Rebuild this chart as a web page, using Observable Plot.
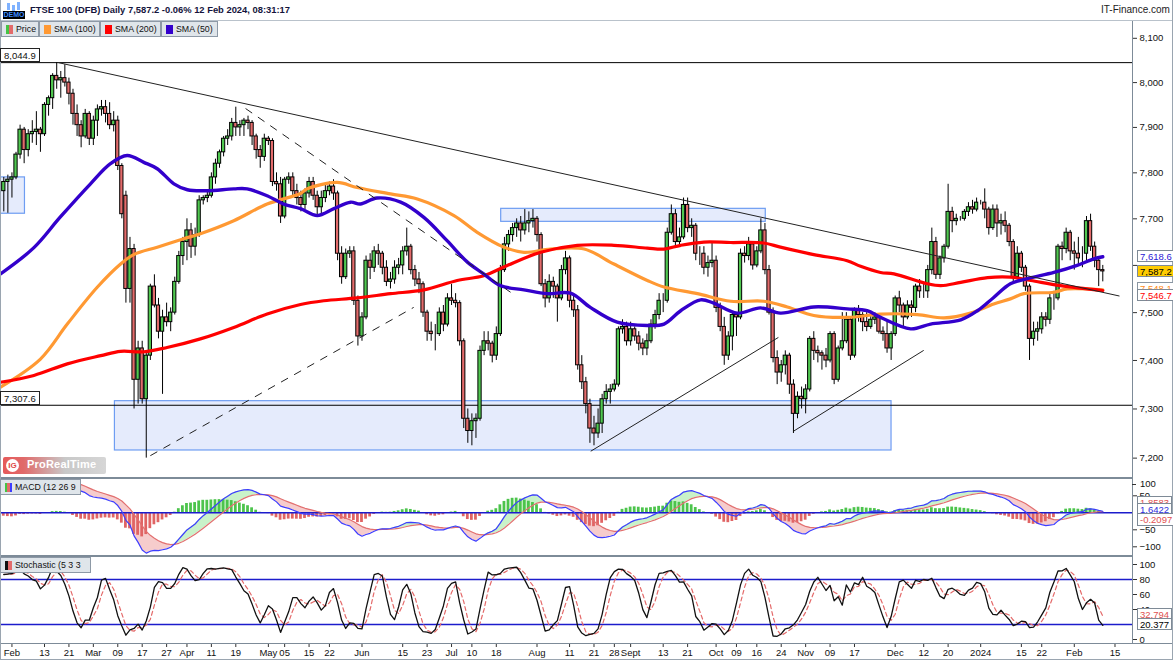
<!DOCTYPE html>
<html><head><meta charset="utf-8">
<script src="https://cdn.jsdelivr.net/npm/d3@7"></script>
<script src="https://cdn.jsdelivr.net/npm/@observablehq/plot@0.6"></script>
<style>
html,body{margin:0;padding:0;background:#fff;}
#root{position:relative;width:1173px;height:660px;overflow:hidden;background:#fff;font-family:"Liberation Sans",Arial,sans-serif;color:#111;}
.box{position:absolute;border:1px solid #8d99a6;background:#dfe5ea;font-size:8.8px;height:16px;line-height:15px;white-space:nowrap;box-sizing:border-box;padding-left:14px;overflow:hidden;}
.ico{position:absolute;left:4px;top:3px;width:7px;height:9px;}
.lab{position:absolute;border:1px solid #7e8a96;background:#fff;font-size:9.5px;height:12px;line-height:11px;padding:0 2px;box-sizing:border-box;white-space:nowrap;}
.ln{position:absolute;background:#7d8b98;}
</style></head><body><div id="root"></div><script>
// ---------- DATA (FTSE 100 DFB, daily, 30 Jan 2023 - 12 Feb 2024, one row per week) ----------
const open = [
7760,7780,7785,7790,7840, 7895,7850,7885,7890,7895, 7885,7950,7965,8015,8005, 8010,8000,7975,7930,7905,
7880,7930,7875,7915,7940, 7945,7930,7905,7915,7815, 7750,7550,7635,7360,7425, 7320,7410,7555,7515,7460,
7490,7480,7500,7565,7620, 7650,7675,7640,7665,7740, 7745,7750,7790,7820,7845, 7875,7880,7910,7900,7905,
7915,7910,7880,7850,7835, 7875,7870,7780,7775,7705, 7785,7790,7760,7745,7730, 7755,7780,7750,7725,7745,
7760,7770,7755,7625,7575, 7625,7630,7525,7450,7490, 7610,7595,7630,7625,7595, 7565,7570,7595,7600,7630,
7640,7590,7570,7560,7500, 7460,7455,7455,7500,7475, 7530,7525,7520,7440,7280, 7255,7275,7280,7420,7440,
7435,7410,7455,7590,7645, 7665,7680,7690,7675,7690, 7695,7700,7665,7560,7530, 7565,7555,7530,7590,7615,
7525,7505,7390,7355,7310, 7260,7250,7270,7320,7335, 7340,7350,7465,7470,7440, 7465,7450,7435,7425,7440,
7475,7495,7525,7525,7670, 7710,7650,7660,7730,7680, 7685,7625,7625,7595,7605, 7610,7510,7470,7410,7450,
7495,7490,7625,7620,7645, 7600,7630,7675,7590,7500, 7405,7375,7390,7410,7350, 7290,7325,7320,7340,7445,
7420,7415,7410,7400,7455, 7360,7425,7440,7485,7410, 7505,7495,7480,7470,7485, 7490,7460,7455,7425,7455,
7530,7515,7490,7515,7510, 7555,7545,7545,7590,7650, 7580,7615,7640,7715,7695, 7700,7700,7715,7725,7720,
7735,7735,7720,7680,7720, 7690,7695,7685,7650,7575, 7625,7595,7555,7445,7460, 7465,7490,7485,7530,7530,
7640,7635,7670,7630,7625, 7615,7625,7695,7640,7610, 7590];
const high = [
7790,7795,7800,7845,7905, 7900,7895,7915,7935,7900, 7955,7970,8020,8045,8025, 8040,8010,7985,7950,7915,
7940,7935,7925,7950,7960, 7960,7955,7935,7925,7820, 7760,7660,7645,7440,7440, 7420,7560,7580,7530,7505,
7520,7510,7575,7630,7660, 7700,7690,7680,7750,7750, 7760,7800,7830,7850,7880, 7895,7920,7945,7915,7920,
7925,7915,7885,7860,7885, 7880,7875,7800,7790,7790, 7800,7800,7775,7760,7765, 7790,7790,7760,7760,7775,
7780,7785,7760,7640,7635, 7640,7640,7535,7500,7620, 7625,7640,7645,7630,7610, 7585,7610,7615,7640,7680,
7645,7600,7585,7565,7505, 7480,7475,7510,7515,7540, 7560,7540,7525,7445,7300, 7290,7290,7430,7460,7460,
7440,7470,7600,7660,7675, 7690,7700,7705,7720,7715, 7720,7705,7670,7570,7580, 7575,7560,7600,7630,7620,
7540,7515,7410,7365,7320, 7285,7300,7330,7350,7350, 7360,7470,7485,7480,7480, 7470,7460,7445,7455,7485,
7505,7540,7540,7680,7730, 7720,7680,7745,7745,7700, 7690,7640,7640,7620,7650, 7620,7520,7490,7460,7500,
7500,7635,7640,7660,7650, 7640,7700,7690,7600,7510, 7420,7400,7420,7415,7360, 7335,7345,7350,7450,7460,
7430,7420,7425,7460,7460, 7430,7500,7500,7490,7510, 7515,7500,7500,7495,7500, 7495,7470,7480,7460,7535,
7545,7520,7525,7525,7560, 7570,7560,7600,7680,7660, 7620,7645,7775,7725,7710, 7705,7720,7735,7740,7745,
7740,7765,7725,7730,7730, 7710,7715,7690,7655,7640, 7630,7600,7560,7480,7480, 7500,7500,7540,7545,7645,
7650,7680,7675,7650,7660, 7640,7705,7710,7650,7615, 7600];
const low = [
7715,7712,7745,7785,7830, 7820,7835,7865,7860,7845, 7880,7925,7940,7985,7965, 7990,7950,7905,7880,7855,
7875,7860,7860,7880,7925, 7910,7895,7890,7805,7700, 7520,7520,7300,7310,7310, 7200,7400,7510,7445,7330,
7470,7460,7495,7560,7600, 7610,7615,7620,7660,7730, 7735,7745,7775,7810,7835, 7860,7870,7880,7880,7880,
7895,7860,7830,7810,7825, 7860,7770,7760,7690,7700, 7775,7750,7730,7715,7720, 7745,7740,7705,7710,7735,
7750,7740,7610,7560,7570, 7615,7515,7430,7440,7485, 7570,7585,7600,7580,7555, 7550,7560,7580,7580,7620,
7580,7555,7540,7490,7440, 7440,7420,7450,7460,7470, 7515,7510,7430,7260,7230, 7225,7240,7275,7410,7420,
7395,7400,7450,7585,7630, 7650,7660,7650,7665,7670, 7680,7650,7555,7510,7520, 7530,7480,7525,7580,7510,
7490,7380,7340,7290,7230, 7225,7240,7250,7310,7310, 7335,7345,7455,7430,7430, 7440,7420,7410,7410,7435,
7465,7485,7500,7520,7665, 7640,7640,7655,7670,7660, 7610,7600,7580,7575,7595, 7500,7460,7390,7400,7420,
7450,7485,7605,7610,7590, 7595,7625,7580,7495,7395, 7350,7355,7370,7330,7250, 7280,7300,7290,7335,7400,
7395,7380,7385,7395,7350, 7355,7420,7435,7400,7405, 7480,7460,7460,7465,7475, 7455,7440,7415,7400,7450,
7500,7470,7485,7490,7500, 7530,7530,7530,7580,7570, 7570,7605,7635,7670,7685, 7695,7695,7705,7710,7715,
7730,7700,7665,7675,7660, 7665,7670,7640,7560,7570, 7585,7545,7400,7430,7440, 7455,7470,7475,7505,7525,
7610,7625,7610,7590,7600, 7595,7610,7630,7595,7555, 7565];
const close = [
7780,7785,7790,7840,7895, 7850,7885,7890,7895,7885, 7950,7965,8015,8005,8010, 8000,7975,7930,7905,7880,
7930,7875,7915,7940,7945, 7930,7905,7915,7815,7710, 7550,7635,7360,7425,7320, 7410,7555,7515,7460,7490,
7480,7500,7565,7620,7650, 7675,7640,7665,7740,7745, 7750,7790,7820,7845,7875, 7880,7910,7900,7905,7915,
7910,7880,7850,7835,7875, 7870,7780,7775,7705,7785, 7790,7760,7745,7730,7755, 7780,7750,7725,7745,7760,
7770,7755,7625,7575,7625, 7630,7525,7450,7490,7610, 7595,7630,7625,7595,7565, 7570,7595,7600,7630,7640,
7590,7570,7560,7500,7460, 7455,7455,7500,7475,7530, 7525,7520,7440,7280,7255, 7275,7280,7420,7440,7435,
7410,7455,7590,7645,7665, 7680,7690,7675,7690,7695, 7700,7665,7560,7530,7565, 7555,7530,7590,7615,7525,
7505,7390,7355,7310,7260, 7250,7270,7320,7335,7340, 7350,7465,7470,7440,7465, 7450,7435,7425,7440,7475,
7495,7525,7525,7670,7710, 7650,7660,7730,7680,7685, 7625,7625,7595,7605,7610, 7510,7470,7410,7450,7495,
7490,7625,7620,7645,7600, 7630,7675,7590,7500,7405, 7375,7390,7410,7350,7290, 7325,7320,7340,7445,7420,
7415,7410,7400,7455,7360, 7425,7440,7485,7410,7505, 7495,7480,7470,7485,7490, 7460,7455,7425,7455,7530,
7515,7490,7515,7510,7555, 7545,7545,7590,7650,7580, 7615,7640,7715,7695,7700, 7700,7715,7725,7720,7735,
7735,7720,7680,7720,7690, 7695,7685,7650,7575,7625, 7595,7555,7445,7460,7465, 7490,7485,7530,7530,7640,
7635,7670,7630,7625,7615, 7615,7695,7640,7610,7590, 7587.2];

// moving averages: [trading-day number, value]
const sma50 = [[-0.8,7582],[7.4,7638],[13.9,7704],[21.3,7776],[26.2,7820],[30.3,7838],[34.4,7823],[37.7,7809],[41.8,7776],[45.1,7763],[50,7761],[56.5,7765],[59.8,7765],[64.7,7750],[68.8,7732],[72.9,7722],[77,7707],[81.1,7722],[85.2,7736],[87.6,7732],[91.7,7745],[97.5,7736],[103.2,7703],[108.9,7653],[113.9,7607],[117.9,7582],[122,7557],[127.8,7548],[133.5,7540],[139.2,7541],[144.1,7511],[150.7,7480],[158.1,7473],[162.2,7476],[166.3,7504],[171.2,7527],[174.4,7520],[180.2,7499],[185.9,7510],[190.8,7499],[199,7512],[207.2,7508],[212.1,7504],[215.4,7490],[222.8,7466],[227.7,7476],[235.1,7485],[239.2,7504],[243.2,7532],[247.3,7561],[251.5,7572],[258,7585],[263.7,7600],[267.8,7614],[270,7618.6]];
const sma100 = [[-0.8,7345],[9,7403],[15.6,7476],[22.9,7553],[28.7,7603],[31.9,7623],[37.7,7639],[44.2,7657],[48.3,7668],[56.5,7696],[64.7,7732],[72.9,7755],[74.5,7765],[81.9,7779],[86.8,7768],[95,7754],[101.6,7743],[110.6,7707],[116.3,7671],[122.9,7639],[127.8,7628],[134.3,7635],[142.6,7635],[149.9,7603],[158.1,7568],[162.2,7554],[170.4,7540],[178.6,7524],[186.7,7524],[192.5,7512],[199,7494],[207.2,7490],[215.4,7497],[224.4,7496],[231,7489],[237.5,7499],[243.2,7518],[247.3,7529],[250.6,7540],[258,7543],[261.3,7550],[270,7548]];
const sma200 = [[-0.8,7355],[7.4,7369],[15.6,7393],[23.8,7410],[28.7,7419],[34.4,7418],[40.1,7427],[48.3,7445],[56.5,7469],[64.7,7497],[72.9,7517],[78.6,7525],[86.8,7531],[95,7540],[103.2,7548],[111.4,7568],[117.9,7578],[123.7,7600],[131.9,7628],[140.9,7643],[149.9,7643],[158.1,7637],[162.2,7635],[166.3,7643],[172,7650],[178.6,7649],[186.7,7648],[190.8,7639],[199,7623],[207.2,7610],[210.5,7598],[215.4,7585],[218.7,7582],[226.9,7561],[230.2,7557],[235.1,7564],[241.7,7574],[247.3,7575],[252.3,7568],[259.6,7557],[270,7546.7]];

// drawn annotations: zones [fromDay, toDay, low, high], lines [day1, value1, day2, value2]
const zones = [[-3,5.2,7711,7790],[27.3,218.1,7215.5,7316],[122.2,187.2,7693.5,7721.6]];
const levels = [8044.9, 7307.6];
const solidLines = [[13.4,8044.9,274.1,7535],[144.2,7214,190.3,7448],[194.1,7255,226,7421]];
const dashedLines = [[59.4,7942,124.5,7543],[36,7205,100.7,7511]];

// MACD starting state read from the left edge of the MACD pane
const ema12Start = 7745, ema26Start = 7650, signalStart = 105;

const tickDates = ["2023-02-01","2023-02-13","2023-02-21","2023-03-01","2023-03-09","2023-03-17","2023-03-27","2023-04-03","2023-04-11","2023-04-19","2023-05-01","2023-05-05","2023-05-15","2023-05-22","2023-06-01","2023-06-15","2023-06-23","2023-07-03","2023-07-10","2023-07-18","2023-08-01","2023-08-11","2023-08-21","2023-08-28","2023-09-01","2023-09-13","2023-09-21","2023-10-02","2023-10-09","2023-10-16","2023-10-24","2023-11-01","2023-11-09","2023-11-17","2023-12-01","2023-12-12","2023-12-20","2024-01-01","2024-01-15","2024-01-22","2024-02-01","2024-02-15"];
const tickLabels = ["Feb","13","21","Mar","09","17","27","Apr","11","19","May","05","15","22","Jun","15","23","Jul","10","18","Aug","11","21","28","Sept","13","21","Oct","09","16","24","Nov","09","17","Dec","12","20","2024","15","22","Feb","15"];
const priceTicks = [7200,7300,7400,7500,7600,7700,7800,7900,8000,8100];
const macdTicks = [50,-50,-100];
const stochTicks = [100,80,60,40,0];

// ---------- BUILD ----------
const root = document.getElementById("root");
function put(el, left, top){ el.style.position="absolute"; el.style.left=left+"px"; el.style.top=top+"px"; root.appendChild(el); return el; }
function div(html, left, top, css, cls){ const d=document.createElement("div"); if(cls) d.className=cls; d.innerHTML=html; d.style.cssText="position:absolute;left:"+left+"px;top:"+top+"px;"+(css||""); root.appendChild(d); return d; }

const days = [];
for (let t = Date.UTC(2023,0,30); t <= Date.UTC(2024,1,23); t += 864e5) { const wd = new Date(t).getUTCDay(); if (wd>0 && wd<6) days.push(new Date(t).toISOString().slice(0,10)); }
const dayIdx = new Map(days.map((d,i)=>[d,i]));
const tickIdx = tickDates.map(d=>dayIdx.get(d));
const labelOf = new Map(tickIdx.map((t,k)=>[t,tickLabels[k]]));

const n = close.length;
const candles = close.map((c,i)=>({i, o:open[i], h:high[i], l:low[i], c}));
const GREEN="#50c850", RED="#e36b6b";
const XD = [-0.81, 277.3];
const W = 1173, MR = 41;
const font = "Liberation Sans, Arial, sans-serif";
const fmt = d3.format(",");

const main = Plot.plot({
  width:W, height:455, marginTop:0, marginRight:MR, marginBottom:0, marginLeft:0,
  style:{background:"transparent", fontFamily:font, overflow:"hidden"},
  x:{domain:XD, axis:null},
  y:{type:"log", domain:[7161,8136], axis:null},
  color:{type:"identity"},
  marks:[
    Plot.rect(zones,{x1:d=>d[0],x2:d=>d[1],y1:d=>d[2],y2:d=>d[3],fill:"#e5ebfc",stroke:"#6e9df2",strokeWidth:1.2}),
    Plot.ruleY(levels,{stroke:"#000",strokeWidth:1}),
    Plot.ruleX(candles,{x:"i",y1:"l",y2:"h",stroke:"#000",strokeWidth:1}),
    Plot.rect(candles,{x1:d=>d.i-0.4,x2:d=>d.i+0.4,y1:"o",y2:"c",fill:d=>d.c>=d.o?GREEN:RED,stroke:"#000",strokeWidth:1}),
    Plot.line(sma100,{x:d=>d[0],y:d=>d[1],stroke:"#ff9933",strokeWidth:3.2,curve:"catmull-rom"}),
    Plot.line(sma200,{x:d=>d[0],y:d=>d[1],stroke:"#ff0000",strokeWidth:3.2,curve:"catmull-rom"}),
    Plot.line(sma50,{x:d=>d[0],y:d=>d[1],stroke:"#3300cc",strokeWidth:3.4,curve:"catmull-rom"}),
    Plot.link(solidLines,{x1:d=>d[0],y1:d=>d[1],x2:d=>d[2],y2:d=>d[3],stroke:"#222",strokeWidth:1}),
    Plot.link(dashedLines,{x1:d=>d[0],y1:d=>d[1],x2:d=>d[2],y2:d=>d[3],stroke:"#222",strokeWidth:1,strokeDasharray:"8,7"}),
    Plot.axisY({anchor:"right",label:null,ticks:priceTicks,tickFormat:d=>d===7600?"":fmt(d),tickSize:4,tickPadding:3,fontSize:9.5,stroke:"#333",fill:"#111"})
  ]
});
put(main, 0, 22);

// MACD (12,26,9) computed from the closes
const k12=2/13,k26=2/27,k9=2/10;
let e12=ema12Start, e26=ema26Start, sg=signalStart;
const macd=[];
for(let i=0;i<n;i++){ if(i>0){ e12+=k12*(close[i]-e12); e26+=k26*(close[i]-e26);} const m=e12-e26; if(i>0) sg+=k9*(m-sg); macd.push({i,m,s:sg,h:m-sg}); }
const macdPlot = Plot.plot({
  width:W, height:78, marginTop:0, marginRight:MR, marginBottom:0, marginLeft:0,
  style:{background:"transparent", fontFamily:font, overflow:"hidden"},
  x:{domain:XD, axis:null},
  y:{domain:[-128.5,100.9], axis:null},
  color:{type:"identity"},
  marks:[
    Plot.areaY(macd,{x:"i",y1:"s",y2:d=>Math.max(d.m,d.s),fill:"#c9f2c9"}),
    Plot.areaY(macd,{x:"i",y1:"s",y2:d=>Math.min(d.m,d.s),fill:"#f6cccc"}),
    Plot.rect(macd,{x1:d=>d.i-0.34,x2:d=>d.i+0.34,y1:0,y2:"h",fill:d=>d.h>=0?"#4cc44c":"#e06464"}),
    Plot.ruleY([0],{stroke:"#1c1ccc",strokeWidth:1.4}),
    Plot.line(macd,{x:"i",y:"s",stroke:"#e27070",strokeWidth:1.2}),
    Plot.line(macd,{x:"i",y:"m",stroke:"#3d3dff",strokeWidth:1.2}),
    Plot.axisY({anchor:"right",label:null,ticks:macdTicks,tickSize:4,tickPadding:3,fontSize:9.5,stroke:"#333",fill:"#111"})
  ]
});
put(macdPlot, 0, 478);

// Stochastic (5,3,3) computed from high/low/close
const rawK = close.map((c,i)=>{ const a=Math.max(0,i-4); const hh=d3.max(high.slice(a,i+1)), ll=d3.min(low.slice(a,i+1)); return 100*(c-ll)/(hh-ll); });
const K = rawK.map((_,i)=>d3.mean(rawK.slice(Math.max(0,i-2),i+1)));
const D = K.map((_,i)=>d3.mean(K.slice(Math.max(0,i-2),i+1)));
const st = K.map((k,i)=>({i,k,d:D[i]}));
const stochPlot = Plot.plot({
  width:W, height:104, marginTop:0, marginRight:MR, marginBottom:17, marginLeft:0,
  style:{background:"transparent", fontFamily:font, overflow:"visible"},
  x:{domain:XD, axis:null},
  y:{domain:[-5.33,110.67], axis:null},
  marks:[
    Plot.ruleY([80,20],{stroke:"#1c1ccc",strokeWidth:1.4}),
    Plot.line(st,{x:"i",y:"d",stroke:"#e46a6a",strokeWidth:1.2,strokeDasharray:"4,3"}),
    Plot.line(st,{x:"i",y:"k",stroke:"#111",strokeWidth:1.3}),
    Plot.axisY({anchor:"right",label:null,ticks:stochTicks,tickSize:4,tickPadding:3,fontSize:9.5,stroke:"#333",fill:"#111"}),
    Plot.axisX({anchor:"bottom",label:null,ticks:tickIdx,tickFormat:d=>labelOf.get(d),tickSize:4,tickPadding:2,fontSize:9.5,stroke:"#333",fill:"#111"})
  ]
});
put(stochPlot, 0, 556);

// ---------- frame, header, legend, labels ----------
const yMain = v => 22 + main.scale("y").apply(v);
const yMacd = v => 478 + macdPlot.scale("y").apply(v);
const yStoch = v => 556 + stochPlot.scale("y").apply(v);

div("",0,477,"width:1132px;height:2px;","ln");
div("",0,555,"width:1132px;height:2px;","ln");
div("",0,643,"width:1173px;height:1px;","ln");
div("",1132,20,"width:1px;height:624px;","ln");
div("",0,20,"width:1173px;height:1px;background:#b9c2cb","ln");
div("",0,0,"width:1px;height:660px;background:#9aa5b0","ln");
div("",1172,0,"width:1px;height:660px;background:#9aa5b0","ln");
div("",0,659,"width:1173px;height:1px;background:#9aa5b0","ln");

// header
div('<div style="position:absolute;left:4px;top:1px;width:3px;height:7px;background:#7fb2ff"></div><div style="position:absolute;left:9px;top:3px;width:3px;height:6px;background:#7fb2ff"></div><div style="position:absolute;left:14px;top:0px;width:3px;height:8px;background:#7fb2ff"></div><div style="position:absolute;left:0;top:9px;width:22px;height:8px;background:#000;color:#3d8bff;font:bold 7px Liberation Sans;line-height:8px;text-align:center">DEMO</div>',3,2,"width:22px;height:18px;");
div("FTSE 100 (DFB) Daily 7,587.2 -0.06% 12 Feb 2024, 08:31:17",30,4,"font-size:9.4px;font-weight:bold;color:#14143c;white-space:nowrap;");
div("IT-Finance.com",1101,4,"font-size:10px;color:#222;white-space:nowrap");

// legend
const leg = [["Price",null,1,38],["SMA (100)","#ff9933",39,61],["SMA (200)","#ff0000",100,61],["SMA (50)","#3300cc",161,57]];
leg.forEach(([t,c,x,w])=>{
  const icon = c ? '<span class="ico" style="background:'+c+'"></span>' : '<span class="ico" style="background:linear-gradient(90deg,#44c444 50%,#e36b6b 50%)"></span>';
  div(icon+t, x, 21, "width:"+w+"px;", "box");
});

// left level boxes
[["8,044.9",8044.9],["7,307.6",7307.6]].forEach(([t,v])=>{
  div(t,0,Math.round(yMain(v))-14,"border:1px solid #222;background:#fff;font-size:9.5px;height:14px;line-height:13px;padding:0 3px;box-sizing:border-box;");
});

// right price boxes
div("7,548.1",1137,282,"color:#ff8c1a;border-color:#8a96a2","lab");
div("7,546.7",1137,289,"color:#ff0000;","lab");
div("7,618.6",1137,Math.round(yMain(7618.6))-6,"color:#2b16d6;","lab");
div("7,587.2",1137,Math.round(yMain(7587.2))-6,"color:#000;background:#ffcc00;","lab");

// MACD labels
div('<span class="ico" style="background:linear-gradient(90deg,#44c444 33%,#e36b6b 33% 66%,#3d3dff 66%)"></span>MACD (12 26 9',0,479,"width:81px;","box");
div("100",1140,Math.round(yMacd(100))+1,"font-size:9.5px;line-height:10px;");
div("",1132,Math.round(yMacd(100))+6,"width:4px;height:1px;background:#333");
div("1.8583",1137,496,"color:#e05050;","lab");
div("1.6422",1137,503,"color:#2b2bdd;","lab");
div("-0.2097",1137,513,"color:#e05050;height:13px","lab");

// Stochastic labels
div('<span class="ico" style="background:linear-gradient(90deg,#111 50%,#e36b6b 50%)"></span>Stochastic (5 3 3',0,557,"width:91px;","box");
div("32.794",1137,Math.round(yStoch(32.794))-6,"color:#e05050;","lab");
div("20.377",1137,Math.round(yStoch(20.377))-6,"color:#000;","lab");

// ProRealTime logo
div('<span style="position:absolute;left:3px;top:2px;width:13px;height:13px;border-radius:7px;background:#fff;color:#e04848;font:bold 8px Liberation Sans;line-height:13px;text-align:center">IG</span><span style="position:absolute;left:24px;top:1px;color:#fff;font:bold 11px Liberation Sans;letter-spacing:0.2px">ProRealTime</span>',3,457,"width:103px;height:17px;border-radius:2px;background:linear-gradient(90deg,#e65a5a 0%,#e06a6a 20%,#c8c8c8 60%,#d6d6d6 100%);");
</script></body></html>
